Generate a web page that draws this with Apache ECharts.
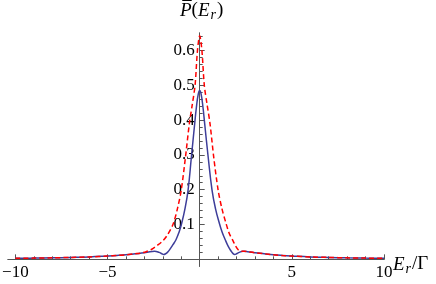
<!DOCTYPE html>
<html><head><meta charset="utf-8">
<script src="https://cdn.jsdelivr.net/npm/echarts@6/dist/echarts.min.js"></script>
<style>html,body{margin:0;padding:0;background:#fff}#c{width:436px;height:284px}</style>
</head><body><div id="c"></div>
<script>
const blueX = [-10,-9,-8,-7,-6,-5,-4.5,-4,-3.5,-3,-2.7,-2.45,-2.2,-2.05,-1.95,-1.85,-1.75,-1.6,-1.45,-1.28,-1.12,-0.98,-0.8,-0.63,-0.45,-0.27,-0.18,-0.08,0,0.08,0.18,0.27,0.46,0.67,0.86,1.07,1.22,1.38,1.55,1.7,1.8,1.9,2.0,2.15,2.35,2.6,3,3.5,4,4.5,5,6,7,8,9,10];
const blueY = [0.003,0.0035,0.0043,0.0055,0.007,0.0095,0.011,0.013,0.016,0.019,0.022,0.023,0.02,0.016,0.014,0.016,0.02,0.03,0.042,0.057,0.078,0.103,0.145,0.199,0.294,0.39,0.436,0.474,0.485,0.474,0.436,0.39,0.294,0.199,0.145,0.103,0.078,0.057,0.037,0.024,0.017,0.014,0.016,0.02,0.023,0.022,0.019,0.016,0.013,0.011,0.0095,0.007,0.0055,0.0043,0.0035,0.003];
const redX = [-10,-9,-8,-7,-6,-5,-4.5,-4,-3.5,-3.2,-2.9,-2.6,-2.3,-2,-1.75,-1.45,-1.2,-1,-0.77,-0.56,-0.4,-0.25,-0.12,0,0.12,0.25,0.4,0.56,0.76,1,1.2,1.43,1.6,1.79,1.95,2.1,2.25,2.45,2.6,3,3.5,4,4.5,5,6,7,8,9,10];
const redY = [0.003,0.0035,0.0043,0.0055,0.007,0.0095,0.011,0.013,0.016,0.018,0.022,0.029,0.04,0.053,0.07,0.1,0.147,0.199,0.294,0.39,0.445,0.5,0.6,0.642,0.6,0.5,0.445,0.39,0.294,0.199,0.147,0.103,0.075,0.055,0.038,0.027,0.023,0.023,0.022,0.019,0.016,0.013,0.011,0.0095,0.007,0.0055,0.0043,0.0035,0.003];
const xMajorTicks = [-10,-5,0,5,10];
const xTickLabels = [-10,-5,5,10];
const xMinorTicks = [-9,-8,-7,-6,-4,-3,-2,-1,1,2,3,4,6,7,8,9];
const yMajorTicks = [0.1,0.2,0.3,0.4,0.5,0.6];
const yTickLabels = [0.1,0.2,0.3,0.4,0.5,0.6];
const yMinorTicks = [0.02,0.04,0.06,0.08,0.12,0.14,0.16,0.18,0.22,0.24,0.26,0.28,0.32,0.34,0.36,0.38,0.42,0.44,0.46,0.48,0.52,0.54,0.56,0.58,0.62,0.64];

const serif = "'Liberation Serif','DejaVu Serif',serif";
const axisColor = '#555';
const W = 436, H = 284;
const gLeft = 8, gRight = 52, gTop = 33, gBottom = 17.7;
const xMin = -10.4, xMax = 10, yMin = -0.02, yMax = 0.65;
const gW = W - gLeft - gRight, gH = H - gTop - gBottom;
const yOff = -(0 - xMin) / (xMax - xMin) * gW;
const xOff = -(0 - yMin) / (yMax - yMin) * gH;

const chart = echarts.init(document.getElementById('c'), null, {renderer:'canvas'});
const pairs = (xs, ys) => xs.map((x,i)=>[x, ys[i]]);
const baseX = {
  type:'value', min:xMin, max:xMax, position:'bottom', offset:xOff,
  axisLine:{onZero:false, lineStyle:{color:axisColor, width:1}},
  splitLine:{show:false}
};
const baseY = {
  type:'value', min:yMin, max:yMax, position:'left', offset:yOff,
  axisLine:{onZero:false, lineStyle:{color:axisColor, width:1}},
  splitLine:{show:false}
};
const richStyle = {
  i:{fontFamily:serif, fontStyle:'italic', fontSize:19, fill:'#000'},
  n:{fontFamily:serif, fontSize:19, fill:'#000'},
  s:{fontFamily:serif, fontStyle:'italic', fontSize:14, fill:'#000', verticalAlign:'bottom', padding:[9,1,0,1]}
};
chart.setOption({
  animation:false,
  grid:{left:gLeft, right:gRight, top:gTop, bottom:gBottom, containLabel:false, outerBoundsMode:'none'},
  xAxis:[
    Object.assign({}, baseX, {
      axisTick:{show:true, inside:true, length:5, customValues:xMajorTicks, lineStyle:{color:axisColor}},
      axisLabel:{show:true, customValues:xTickLabels, margin:5, fontFamily:serif, fontSize:17, color:'#000',
        formatter:v => v<0 ? '\u2212'+Math.abs(v) : String(v)}
    }),
    Object.assign({}, baseX, {
      axisTick:{show:true, inside:true, length:3, customValues:xMinorTicks, lineStyle:{color:axisColor}},
      axisLabel:{show:false}
    })
  ],
  yAxis:[
    Object.assign({}, baseY, {
      axisTick:{show:true, inside:true, length:5, customValues:yMajorTicks, lineStyle:{color:axisColor}},
      axisLabel:{show:true, customValues:yTickLabels, margin:5, fontFamily:serif, fontSize:17, color:'#000',
        formatter:v => v.toFixed(1)}
    }),
    Object.assign({}, baseY, {
      axisTick:{show:true, inside:true, length:3, customValues:yMinorTicks, lineStyle:{color:axisColor}},
      axisLabel:{show:false}
    })
  ],
  series:[
    {type:'line', name:'blue', xAxisIndex:0, yAxisIndex:0, data:pairs(blueX, blueY), showSymbol:false, smooth:0.45,
     lineStyle:{color:'#3d3d99', width:1.5}},
    {type:'line', name:'red', xAxisIndex:0, yAxisIndex:0, data:pairs(redX, redY), showSymbol:false, smooth:0.3,
     lineStyle:{color:'#ff0000', width:1.5, type:[5,3]}}
  ],
  graphic:[
    {type:'text', left:180, top:1, style:{text:'{i|P\u0305}{n|(}{i|E}{s|r}{n|)}', rich:richStyle}},
    {type:'text', left:393, top:255, style:{text:'{i|E}{s|r}{n|/Γ}', rich:richStyle}}
  ]
});
</script></body></html>
